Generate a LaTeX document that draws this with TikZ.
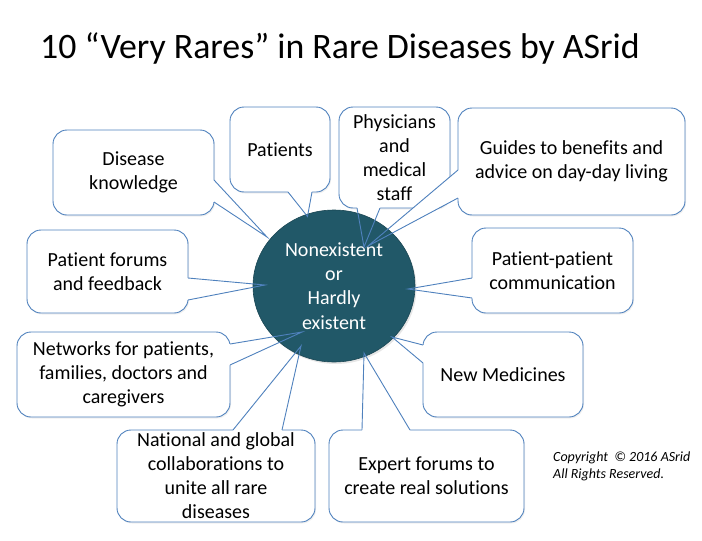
\documentclass[tikz,border=0pt]{standalone}
\usepackage{fontspec}
\setmainfont{Carlito}[Ligatures={NoCommon}]
\usetikzlibrary{calc,shadows,shapes.geometric}
\definecolor{circfill}{HTML}{215868}
\definecolor{bline}{HTML}{4F81BD}
\begin{document}
\begin{tikzpicture}[x=1pt,y=-1pt,
  box/.style={draw=bline, fill=white, line width=0.9pt, rounded corners=14pt,
    outer sep=0pt, inner sep=2pt, align=center, font=\fontsize{20}{24}\selectfont,
    drop shadow={opacity=0.12, shadow xshift=1pt, shadow yshift=-1.5pt}},
  hub/.style={ellipse, fill=circfill, draw=circfill!80!black, line width=0.6pt,
    outer sep=0pt, inner sep=0pt, align=center, text=white,
    font=\fontsize{20}{24.3}\selectfont,
    drop shadow={opacity=0.2, shadow xshift=1.5pt, shadow yshift=-2pt}},
  tailfill/.style={fill=white},
  tail/.style={draw=bline, line width=0.9pt, line join=miter},
]
\useasboundingbox (0,0) rectangle (702,541);

% title
\node[font=\fontsize{35.8}{40}\selectfont, anchor=base west, inner sep=0pt] (title) at (40,58)
  {10 “Very Rares” in Rare Diseases by ASrid};

% boxes
\node[box, minimum width=161pt, minimum height=85pt] (dk) at (133.5,172.5) {Disease\\knowledge};
\node[box, minimum width=100pt, minimum height=85pt] (pa) at (280,149.5) {Patients};
\node[box, minimum width=111pt, minimum height=101pt] (ph) at (394.5,157.5) {Physicians\\and\\medical\\staff};
\node[box, minimum width=227pt, minimum height=107pt] (gu) at (571.5,161.5) {Guides to benefits and\\advice on day-day living};
\node[box, minimum width=161pt, minimum height=83pt] (pf) at (107.5,271.5) {Patient forums\\and feedback};
\node[box, minimum width=161pt, minimum height=85pt] (pp) at (552.5,270.5) {Patient-patient\\communication};
\node[box, minimum width=213pt, minimum height=85pt] (nw) at (123.5,374.5) {Networks for patients,\\families, doctors and\\caregivers};
\node[box, minimum width=160pt, minimum height=85pt] (nm) at (503,374.5) {New Medicines};
\node[box, minimum width=198pt, minimum height=92pt] (na) at (216,476) {National and global\\collaborations to\\unite all rare\\diseases};
\node[box, minimum width=195pt, minimum height=92pt] (ex) at (426.5,476) {Expert forums to\\create real solutions};

% tail anchor points
\coordinate (dk1) at ($(dk.north east)+(0,50)$);
\coordinate (dk2) at ($(dk.north east)+(0,72)$);
\coordinate (dkt) at (267,237);
\coordinate (pa1) at ($(pa.south west)+(58,0)$);
\coordinate (pa2) at ($(pa.south west)+(82,0)$);
\coordinate (pat) at (307.5,216.5);
\coordinate (ph1) at ($(ph.south west)+(18,0)$);
\coordinate (ph2) at ($(ph.south west)+(41,0)$);
\coordinate (pht) at (364,247);
\coordinate (gu1) at ($(gu.north west)+(0,62)$);
\coordinate (gu2) at ($(gu.north west)+(0,90)$);
\coordinate (gut) at (368,246);
\coordinate (pf1) at ($(pf.north east)+(0,48)$);
\coordinate (pf2) at ($(pf.north east)+(0,70)$);
\coordinate (pft) at (265,285);
\coordinate (pp1) at ($(pp.north west)+(0,50)$);
\coordinate (pp2) at ($(pp.north west)+(0,70)$);
\coordinate (ppt) at (408,289);
\coordinate (nw1) at ($(nw.north east)+(0,12)$);
\coordinate (nw2) at ($(nw.north east)+(0,33)$);
\coordinate (nwt) at (302,332);
\coordinate (nm1) at ($(nm.north west)+(0,13)$);
\coordinate (nm2) at ($(nm.north west)+(0,31)$);
\coordinate (nmt) at (392,337);
\coordinate (na1) at ($(na.north west)+(116,0)$);
\coordinate (na2) at ($(na.north west)+(165,0)$);
\coordinate (nat) at (301,346);
\coordinate (ex1) at ($(ex.north west)+(33,0)$);
\coordinate (ex2) at ($(ex.north west)+(81,0)$);
\coordinate (ext) at (364,353);

% tail fills (cover the box border between the base points)
\foreach \t/\dx/\dy in {dk/-1.5/0, pa/0/-1.5, ph/0/-1.5, gu/1.5/0, pf/-1.5/0,
                        pp/1.5/0, nw/-1.5/0, nm/1.5/0, na/0/1.5, ex/0/1.5}{
  \fill[tailfill] ($(\t1)+(\dx,\dy)$) -- (\t1) -- (\t t) -- (\t2) -- ($(\t2)+(\dx,\dy)$) -- cycle;
}

% hub
\node[hub, minimum width=162pt, minimum height=152pt] (hub) at (334,286)
  {Nonexistent\\or\\Hardly\\existent};

% tail outlines
\foreach \t in {dk,pa,ph,gu,pf,pp,nw,nm,na,ex}{
  \draw[tail] (\t1) -- (\t t) -- (\t2);
}

% copyright
\node[font=\itshape\fontsize{14}{16.5}\selectfont, align=left, anchor=base west, inner sep=0pt] (copy) at (553,478)
  {Copyright \ © 2016 ASrid\\All Rights Reserved.};
\end{tikzpicture}
\end{document}
